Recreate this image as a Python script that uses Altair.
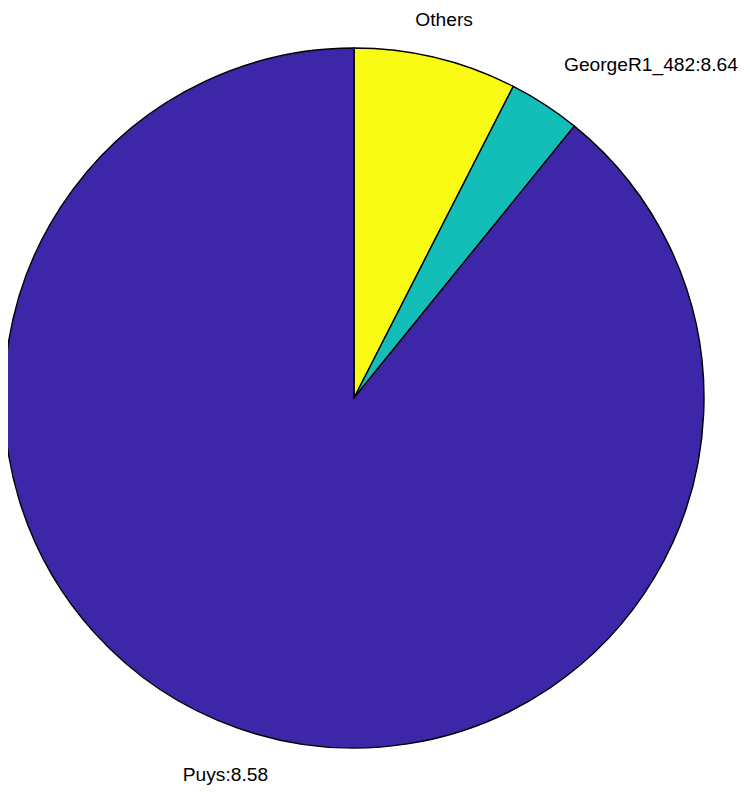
import altair as alt
import pandas as pd

labels = ["Others", "GeorgeR1_482:8.64", "Puys:8.58"]
values = [7.52, 3.32, 89.16]
order = [0, 1, 2]
colors = ["#F9FB15", "#13BEB8", "#3D26A8"]

df = pd.DataFrame({"label": labels, "value": values, "idx": order})

CX, CY, R = 346, 390, 350

base = alt.Chart(df).encode(
    theta=alt.Theta("value:Q", stack=True),
    order=alt.Order("idx:Q"),
    x=alt.value(CX),
    y=alt.value(CY),
)

arc = base.mark_arc(outerRadius=R, stroke="black", strokeWidth=1.4).encode(
    color=alt.Color("label:N", scale=alt.Scale(domain=labels, range=colors), legend=None)
)

font = dict(font="Liberation Sans", fontSize=19.2, color="black")

def lab(i, align, baseline, dy):
    return base.transform_calculate(
        t=f"datum.idx == {i} ? datum.label : ''"
    ).mark_text(radius=R * 1.1, align=align, baseline=baseline, dy=dy, **font).encode(
        text="t:N"
    )

chart = alt.layer(
    arc,
    lab(0, "center", "bottom", 6),
    lab(1, "left", "bottom", 0),
    lab(2, "center", "top", 5),
).properties(
    width=734, height=777, padding=0, autosize=alt.AutoSizeParams(type="none")
).configure_view(stroke=None)

chart.save("out.html", embed_options={"renderer": "svg", "actions": False})
